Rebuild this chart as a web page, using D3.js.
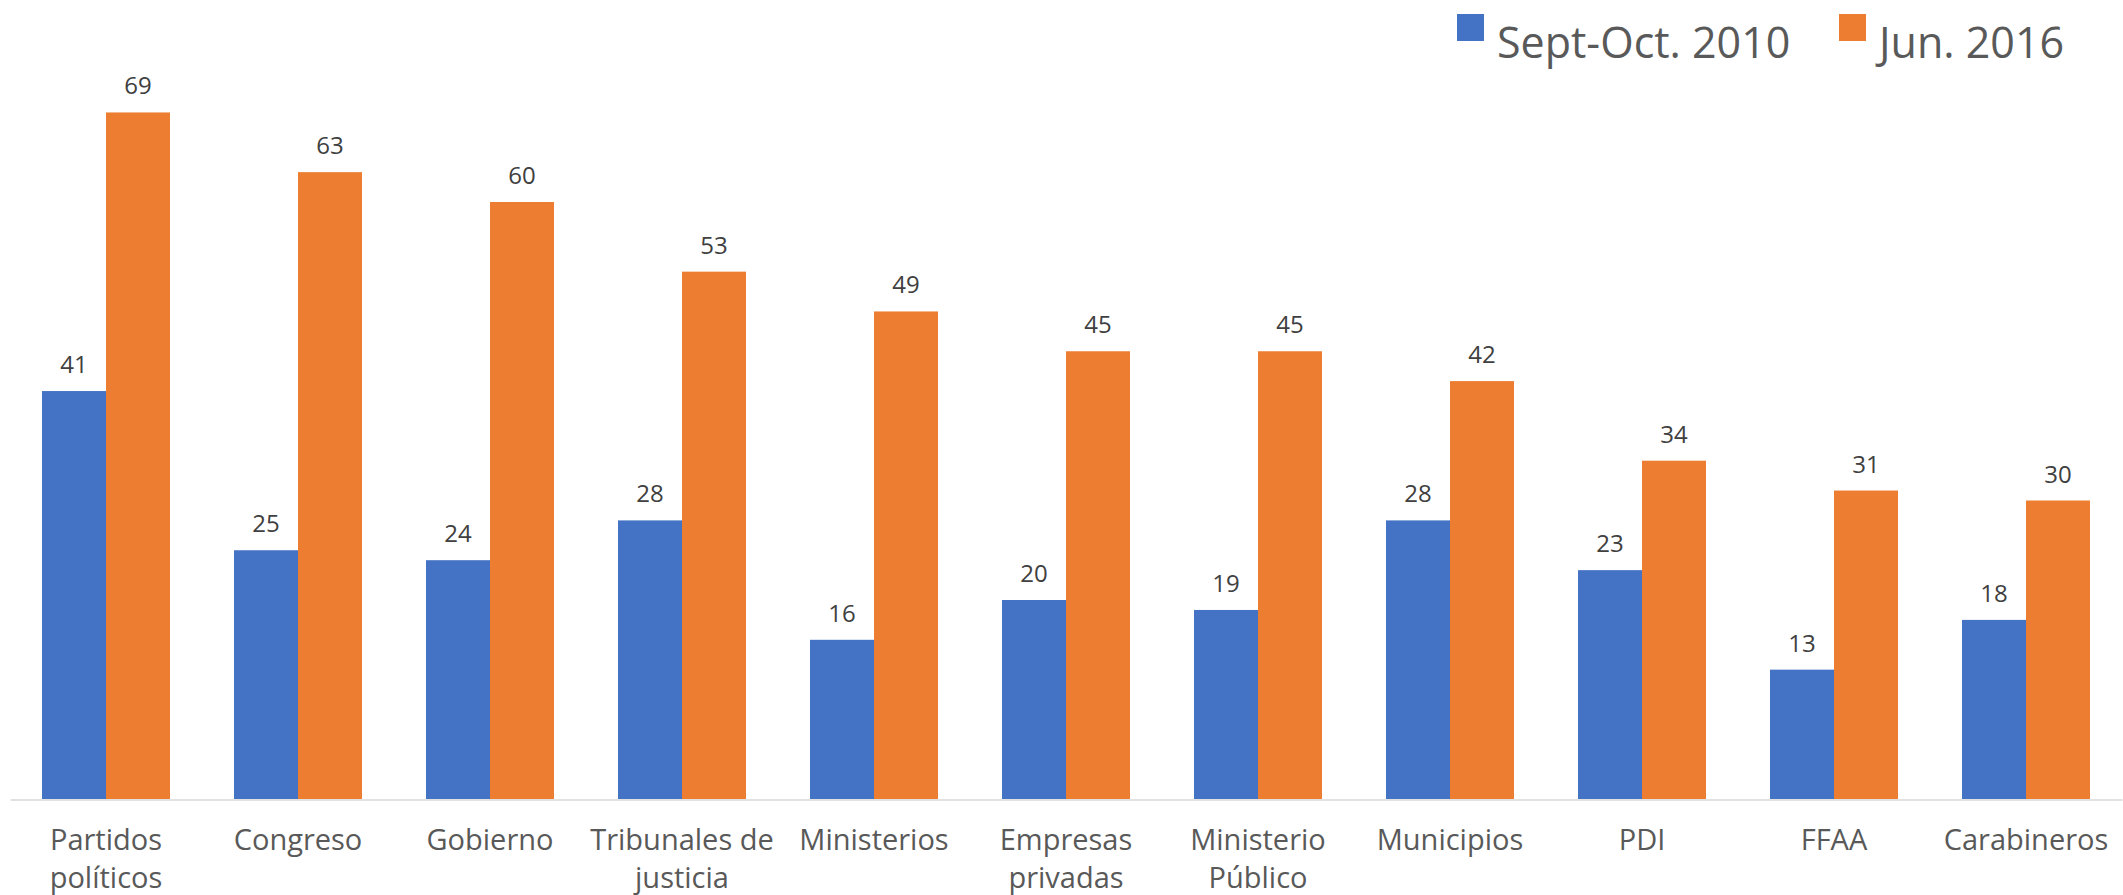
<!DOCTYPE html>
<html>
<head>
<meta charset="utf-8">
<script src="https://cdn.jsdelivr.net/npm/d3@7"></script>
<style>
html,body{margin:0;padding:0;background:#fff;}
svg{display:block;font-family:"Open Sans","Noto Sans",sans-serif;}
</style>
</head>
<body>
<svg id="chart" width="2123" height="895"></svg>
<script>
const categories = ["Partidos\npolíticos","Congreso","Gobierno","Tribunales de\njusticia","Ministerios","Empresas\nprivadas","Ministerio\nPúblico","Municipios","PDI","FFAA","Carabineros"];
const seriesNames = ["Sept-Oct. 2010","Jun. 2016"];
const values2010 = [41,25,24,28,16,20,19,28,23,13,18];
const values2016 = [69,63,60,53,49,45,45,42,34,31,30];
const colors = ["#4472C4","#ED7D31"];

const svg = d3.select("#chart");
const baseY = 799;
const x = d3.scaleBand().domain(categories).range([10,2122]).paddingInner(1/3).paddingOuter(1/6);
const x1 = d3.scaleBand().domain(seriesNames).range([0,x.bandwidth()]);
const y = d3.scaleLinear().domain([0,80]).range([baseY,3]);

const data = categories.map((c,i)=>({cat:c, vals:[values2010[i],values2016[i]]}));

const g = svg.append("g");
const groups = g.selectAll("g.grp").data(data).join("g")
  .attr("transform", d=>`translate(${x(d.cat)},0)`);

groups.selectAll("rect").data(d=>d.vals.map((v,j)=>({v,s:seriesNames[j],j}))).join("rect")
  .attr("x", d=>x1(d.s))
  .attr("y", d=>y(d.v))
  .attr("width", x1.bandwidth())
  .attr("height", d=>y(0)-y(d.v))
  .attr("fill", d=>colors[d.j]);

groups.selectAll("text.val").data(d=>d.vals.map((v,j)=>({v,s:seriesNames[j],j}))).join("text")
  .attr("class","val")
  .attr("x", d=>x1(d.s)+x1.bandwidth()/2)
  .attr("y", d=>y(d.v)-18)
  .attr("text-anchor","middle")
  .attr("font-size",24)
  .attr("fill","#404040")
  .text(d=>d.v);

// axis
const axis = d3.axisBottom(x).tickSize(0).tickFormat("");
const ax = svg.append("g").attr("transform",`translate(0,${baseY+0.5})`).call(axis);
ax.select(".domain").attr("stroke","#d9d9d9").attr("stroke-width",1.5);

// category labels
const lab = svg.append("g").selectAll("text").data(categories).join("text")
  .attr("x", d=>x(d)+x.bandwidth()/2)
  .attr("y", 850)
  .attr("text-anchor","middle")
  .attr("font-size",29)
  .attr("fill","#595959");
lab.each(function(d){
  const lines = d.split("\n");
  const t = d3.select(this);
  lines.forEach((ln,k)=>{
    t.append("tspan").attr("x", x(d)+x.bandwidth()/2).attr("dy", k===0?0:38).text(ln);
  });
});

// legend
const legendX = [1457,1839];
const leg = svg.append("g").selectAll("g").data(seriesNames).join("g")
  .attr("transform",(d,i)=>`translate(${legendX[i]},14)`);
leg.append("rect").attr("width",27).attr("height",27).attr("fill",(d,i)=>colors[i]);
leg.append("text").attr("x",40).attr("y",27).attr("font-size",43).attr("fill","#595959")
  .attr("dominant-baseline","central").text(d=>d);
</script>
</body>
</html>
